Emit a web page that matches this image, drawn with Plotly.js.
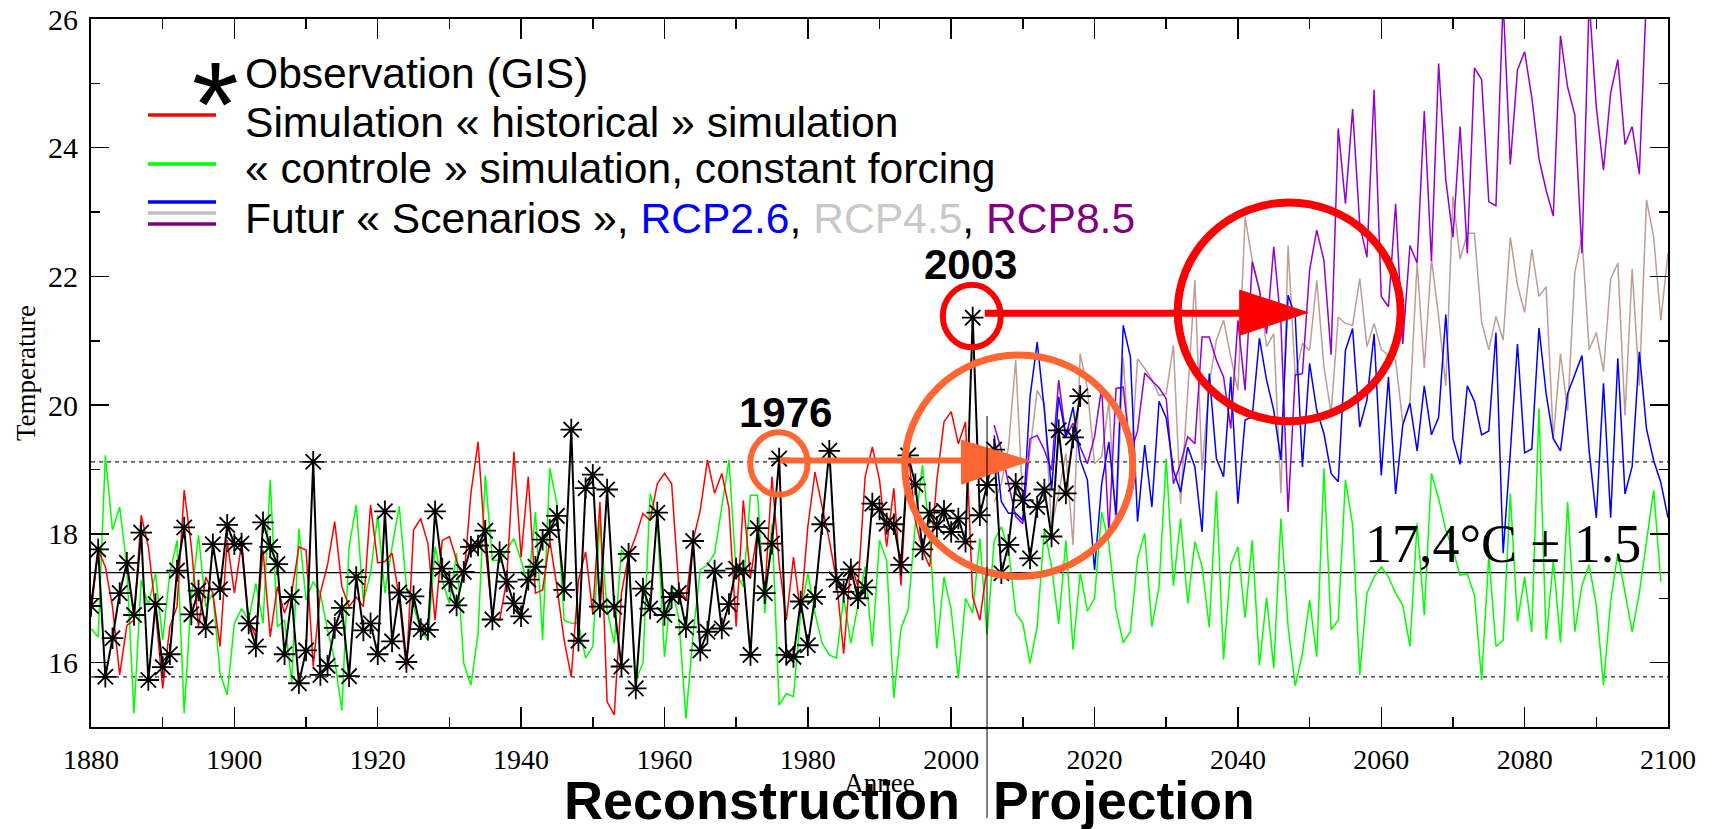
<!DOCTYPE html>
<html><head><meta charset="utf-8">
<script src="https://cdn.plot.ly/plotly-3.0.1.min.js"></script>
<style>html,body{margin:0;padding:0;background:#fff}#chart{width:1718px;height:829px}</style>
</head><body><div id="chart"></div>
<script>
// ---- data ----
const obsStartYear = 1880;
const observation = [
  16.88,17.76,15.78,16.38,17.08,17.55,16.74,18.02,15.73,16.91,
  15.93,16.13,17.43,18.10,16.75,17.12,16.55,17.84,17.14,18.14,
  17.84,17.85,16.61,16.25,18.18,17.80,17.53,16.13,17.02,15.68,
  16.19,19.12,15.81,15.95,16.54,16.85,15.79,17.33,16.50,16.61,
  16.13,18.35,16.33,17.09,16.01,17.03,16.52,16.51,18.35,17.46,
  17.26,16.89,17.41,17.80,17.82,18.05,16.67,17.72,17.26,16.92,
  16.72,17.29,17.49,17.91,18.06,18.28,17.13,19.62,16.34,18.71,
  18.92,16.87,18.69,16.87,15.94,17.69,15.60,17.15,16.84,18.33,
  16.74,17.02,17.08,16.55,17.89,16.19,16.48,17.43,16.53,16.91,
  17.46,17.43,16.12,18.09,17.08,17.85,19.17,16.12,16.09,16.95,
  16.27,17.02,18.15,19.29,17.29,17.10,17.45,17.00,17.17,18.47,
  18.38,18.16,18.15,17.52,19.22,18.77,17.76,18.33,18.11,18.36,
  18.03,18.24,17.88,21.36,18.29,18.76,19.31,17.39,17.83,18.78,
  18.52,17.62,18.42,18.69,17.96,19.61,18.63,19.50,20.14
];
const histStartYear = 1880;
const historical = [
  16.77,17.75,17.49,16.87,15.81,16.58,16.66,18.29,17.80,16.82,
  15.60,16.56,16.87,18.68,17.80,16.56,17.33,17.08,16.25,17.90,
  17.08,17.85,16.66,16.40,17.75,16.40,17.18,16.77,17.08,17.80,
  17.75,15.94,17.08,17.52,18.19,17.18,16.87,17.02,16.87,18.45,
  17.55,17.57,17.70,17.00,15.89,18.06,18.24,17.85,16.66,17.90,
  17.96,17.59,17.28,18.63,19.43,17.80,16.69,16.66,17.28,19.28,
  17.64,18.89,17.08,17.13,17.90,17.18,16.35,15.78,17.28,17.72,
  16.77,18.50,15.39,15.19,17.08,17.67,17.96,18.32,18.21,18.78,
  18.94,18.78,17.18,16.97,17.90,18.37,19.15,18.63,18.94,18.40,
  16.56,18.52,17.33,18.06,17.08,18.89,17.54,16.66,17.64,16.77,
  18.11,18.96,18.42,17.90,17.28,16.14,17.54,17.18,18.89,19.35,
  18.84,17.80,18.71,17.20,19.28,18.21,17.75,17.49,18.84,19.74,
  19.90,19.40,19.74,17.02,16.66,17.49
];
const ctrlStartYear = 1880;
const control = [
  16.53,16.40,19.22,18.06,18.42,17.49,15.21,17.28,16.89,17.39,
  16.35,17.39,17.90,15.21,17.02,17.98,16.87,17.08,15.83,15.50,
  16.61,16.84,16.66,17.23,16.61,18.84,16.56,16.66,15.70,18.08,
  16.97,17.26,17.08,16.51,16.04,15.26,17.80,18.45,16.95,17.39,
  18.29,17.08,17.80,18.43,17.18,16.87,16.51,16.35,17.80,17.28,
  16.92,17.70,15.99,15.65,16.45,18.91,17.59,17.59,17.75,17.93,
  17.59,17.18,18.34,16.35,19.02,18.47,16.66,16.61,16.61,16.07,
  16.25,18.21,16.82,16.30,17.75,17.59,15.73,15.99,18.63,18.21,
  16.09,17.18,16.69,15.13,16.45,17.44,17.52,17.70,18.42,19.15,
  17.39,17.18,18.60,18.60,16.77,18.16,15.34,15.52,15.47,16.77,
  17.39,16.77,16.30,16.12,16.07,17.02,16.30,16.87,17.49,16.25,
  17.90,17.59,15.45,16.53,16.82,18.16,19.07,17.96,16.22,17.33,
  16.82,15.76,17.00,16.77,17.93,16.43,17.90,18.11,17.75,16.77,
  16.61,15.99,16.56,18.08,17.50,16.60,17.90,16.20,17.40,16.80,
  17.00,18.34,17.85,16.82,16.31,16.48,17.62,18.01,16.56,17.18,
  19.17,17.19,18.24,16.92,17.88,17.49,16.55,18.67,16.05,17.52,
  17.80,16.70,17.90,15.96,17.01,15.91,18.24,16.56,15.64,16.14,
  16.97,16.09,19.02,16.51,16.66,18.84,18.14,15.81,17.08,17.33,
  17.49,17.33,17.08,16.89,16.25,18.16,16.74,18.94,18.55,18.06,
  17.75,17.36,17.38,17.05,15.73,17.67,16.25,16.35,18.63,16.64,
  17.33,16.48,19.95,16.36,17.59,16.31,18.50,16.48,17.20,17.52,
  16.89,15.65,16.95,17.70,17.08,16.48,17.08,17.85,18.68,17.26
];
const rcpStartYear = 2006;
const rcp26 = [
  19.53,18.50,18.32,18.32,18.21,20.13,20.98,19.92,18.68,20.13,
  19.51,19.97,19.15,18.84,17.44,18.78,19.43,18.30,21.24,20.75,
  18.19,19.38,18.42,20.06,19.80,18.99,18.65,19.35,19.04,18.03,
  20.49,19.17,18.89,20.44,18.47,19.77,19.82,21.04,20.39,19.92,
  19.15,21.71,21.37,19.04,20.65,19.92,19.56,18.94,18.81,20.85,
  21.19,19.66,20.08,21.11,18.91,20.44,18.62,19.69,20.03,19.29,
  20.30,19.54,19.81,21.41,19.48,19.08,20.30,20.06,19.54,19.60,
  21.13,17.70,19.26,20.95,19.26,19.32,21.20,20.18,19.48,19.29,
  20.18,20.46,20.77,19.29,18.25,20.34,18.25,20.73,18.62,19.05,
  20.83,19.63,19.14,18.80,18.25
];
const rcp45 = [
  18.50,18.78,19.35,20.70,18.47,19.30,20.23,20.03,18.11,18.63,
  19.25,17.83,20.80,20.26,19.09,19.20,20.05,18.08,20.75,19.00,
  20.72,20.57,20.40,20.15,20.18,20.93,18.47,20.23,21.94,18.99,
  20.34,21.01,21.32,20.75,20.23,22.92,22.25,21.79,20.91,21.11,
  18.63,22.48,20.44,20.96,20.85,21.94,20.60,19.87,21.37,21.27,
  21.24,21.97,20.91,21.27,20.87,20.77,20.70,19.72,20.03,22.21,
  20.58,22.27,21.38,20.30,23.25,22.27,22.67,22.67,21.29,20.86,
  21.38,21.01,22.61,21.87,21.44,22.42,21.69,21.84,19.48,20.80,
  19.91,22.06,22.61,20.86,21.13,20.52,21.96,22.21,19.84,22.12,
  20.30,23.19,22.61,21.32,22.36
];
const rcp85 = [
  19.69,19.30,18.78,18.27,18.16,19.48,19.53,19.30,18.99,20.39,
  19.51,19.72,19.35,19.09,19.51,20.28,18.00,20.26,20.28,19.25,
  19.60,20.50,20.38,20.27,20.10,18.78,19.09,19.51,19.40,21.06,
  21.06,20.70,20.44,19.64,21.32,20.23,22.23,21.79,21.11,22.46,
  21.27,18.34,20.47,20.49,22.10,22.72,22.25,20.78,24.30,23.13,
  24.60,22.80,22.30,24.90,21.69,21.53,23.13,20.95,22.48,22.21,
  24.57,22.24,25.31,23.50,22.61,24.33,22.36,25.24,25.06,23.16,
  23.10,26.30,23.74,25.21,25.49,24.78,23.83,23.34,22.94,25.74,
  24.94,24.51,22.36,26.30,24.63,23.65,24.85,25.37,24.05,24.33,
  23.59,26.40,26.90,27.20,26.80
];
const climateMean = 17.4;
const climateUpper = 19.12;
const climateLower = 15.78;
const splitYear = 2005;
const xTickLabels = ['1880','1900','1920','1940','1960','1980','2000','2020','2040','2060','2080','2100'];
const yTickLabels = ['16','18','20','22','24','26'];

function yearsFrom(start, values) { return values.map((_, i) => start + i); }

const serif = 'Liberation Serif, Times New Roman, serif';
const sans = 'Liberation Sans, Arial, sans-serif';

const traces = [
  {x: yearsFrom(ctrlStartYear, control), y: control, mode: 'lines', line: {color: '#00ff00', width: 1.5}, name: 'controle'},
  {x: yearsFrom(rcpStartYear, rcp45), y: rcp45, mode: 'lines', line: {color: '#bf9c98', width: 1.5}, name: 'RCP4.5'},
  {x: yearsFrom(rcpStartYear, rcp85), y: rcp85, mode: 'lines', line: {color: '#9400d3', width: 1.5}, name: 'RCP8.5'},
  {x: yearsFrom(rcpStartYear, rcp26), y: rcp26, mode: 'lines', line: {color: '#0000ff', width: 1.5}, name: 'RCP2.6'},
  {x: yearsFrom(histStartYear, historical), y: historical, mode: 'lines', line: {color: '#ff0000', width: 1.5}, name: 'historical'},
  {x: yearsFrom(obsStartYear, observation), y: observation, mode: 'lines+markers',
   line: {color: '#000000', width: 2},
   marker: {symbol: 'asterisk-open', size: 18, color: '#000000', line: {color: '#000000', width: 1.8}},
   name: 'Observation'}
];

const px = fx => (fx - 91) / 1577;   // helper for paper placement of decorations
const py = fy => (727 - fy) / 708;

const shapes = [
  {type: 'line', xref: 'paper', x0: 0, x1: 1, yref: 'y', y0: climateMean, y1: climateMean, line: {color: '#000', width: 1.2}, layer: 'below'},
  {type: 'line', xref: 'paper', x0: 0, x1: 1, yref: 'y', y0: climateUpper, y1: climateUpper, line: {color: '#222', width: 1.2, dash: '4px,4px'}, layer: 'below'},
  {type: 'line', xref: 'paper', x0: 0, x1: 1, yref: 'y', y0: climateLower, y1: climateLower, line: {color: '#222', width: 1.2, dash: '4px,4px'}, layer: 'below'},
  // legend line samples
  {type: 'line', xref: 'paper', yref: 'paper', x0: px(148), x1: px(216), y0: py(115), y1: py(115), line: {color: '#ff0000', width: 3.5}},
  {type: 'line', xref: 'paper', yref: 'paper', x0: px(148), x1: px(216), y0: py(164), y1: py(164), line: {color: '#00ff00', width: 3.5}},
  {type: 'line', xref: 'paper', yref: 'paper', x0: px(148), x1: px(216), y0: py(202), y1: py(202), line: {color: '#0000ff', width: 3.5}},
  {type: 'line', xref: 'paper', yref: 'paper', x0: px(148), x1: px(216), y0: py(213), y1: py(213), line: {color: '#c0c0c0', width: 3.5}},
  {type: 'line', xref: 'paper', yref: 'paper', x0: px(148), x1: px(216), y0: py(224), y1: py(224), line: {color: '#800080', width: 3.5}},
  // circles
  {type: 'circle', xref: 'x', yref: 'y', x0: 1971.96, x1: 1979.97, y0: 18.61, y1: 19.58, line: {color: '#ff6633', width: 6}},
  {type: 'circle', xref: 'x', yref: 'y', x0: 1993.53, x1: 2025.33, y0: 17.34, y1: 20.78, line: {color: '#ff6633', width: 7}},
  {type: 'circle', xref: 'x', yref: 'y', x0: 1998.83, x1: 2006.92, y0: 20.90, y1: 21.87, line: {color: '#ff0000', width: 6}},
  {type: 'circle', xref: 'x', yref: 'y', x0: 2031.6, x1: 2062.7, y0: 19.75, y1: 23.15, line: {color: '#ff0000', width: 8}},
  // arrows
  {type: 'line', xref: 'x', yref: 'y', x0: 1976.1, x1: 2001.6, y0: 19.14, y1: 19.14, line: {color: '#ff6633', width: 6}},
  {type: 'path', xref: 'x', yref: 'y', path: 'M 2001.43 19.457 L 2010.96 19.135 L 2001.43 18.773 Z', fillcolor: '#ff6633', line: {color: '#ff6633', width: 1}},
  {type: 'line', xref: 'x', yref: 'y', x0: 2004.69, x1: 2040.5, y0: 21.43, y1: 21.43, line: {color: '#ff0000', width: 7}},
  {type: 'path', xref: 'x', yref: 'y', path: 'M 2040.25 21.786 L 2049.77 21.44 L 2040.25 21.087 Z', fillcolor: '#ff0000', line: {color: '#ff0000', width: 1}},
  // split line between reconstruction and projection
  {type: 'line', xref: 'x', x0: splitYear, x1: splitYear, yref: 'paper', y0: py(818), y1: py(416), line: {color: '#000', width: 1}}
];

const annotations = [
  {xref: 'paper', yref: 'paper', x: px(215), y: py(104), text: '*', showarrow: false, xanchor: 'center', yanchor: 'middle', font: {family: sans, size: 120, color: '#000'}},
  {xref: 'paper', yref: 'paper', x: px(243), y: py(73), text: 'Observation (GIS)', showarrow: false, xanchor: 'left', yanchor: 'middle', font: {family: sans, size: 42.6, color: '#000'}},
  {xref: 'paper', yref: 'paper', x: px(243), y: py(122), text: 'Simulation « historical » simulation', showarrow: false, xanchor: 'left', yanchor: 'middle', font: {family: sans, size: 42.6, color: '#000'}},
  {xref: 'paper', yref: 'paper', x: px(243), y: py(168), text: '« controle » simulation, constant forcing', showarrow: false, xanchor: 'left', yanchor: 'middle', font: {family: sans, size: 42.6, color: '#000'}},
  {xref: 'paper', yref: 'paper', x: px(243), y: py(218), text: 'Futur « Scenarios », <span style="color:#0000ff">RCP2.6</span>, <span style="color:#c8c8c8">RCP4.5</span>, <span style="color:#800080">RCP8.5</span>', showarrow: false, xanchor: 'left', yanchor: 'middle', font: {family: sans, size: 42.6, color: '#000'}},
  {xref: 'x', yref: 'y', x: 2002.7, y: 22.19, text: '<b>2003</b>', showarrow: false, xanchor: 'center', yanchor: 'middle', font: {family: sans, size: 42, color: '#000'}},
  {xref: 'x', yref: 'y', x: 1976.9, y: 19.89, text: '<b>1976</b>', showarrow: false, xanchor: 'center', yanchor: 'middle', font: {family: sans, size: 42, color: '#000'}},
  {xref: 'paper', yref: 'paper', x: px(1643), y: py(543.5), text: '17,4°C ± 1.5', showarrow: false, xanchor: 'right', yanchor: 'middle', font: {family: serif, size: 54, color: '#000'}},
  {xref: 'paper', yref: 'paper', x: px(962), y: py(800), text: '<b>Reconstruction</b>', showarrow: false, xanchor: 'right', yanchor: 'middle', font: {family: sans, size: 54, color: '#000'}},
  {xref: 'paper', yref: 'paper', x: px(991), y: py(800), text: '<b>Projection</b>', showarrow: false, xanchor: 'left', yanchor: 'middle', font: {family: sans, size: 53.5, color: '#000'}}
];

const layout = {
  width: 1718, height: 829,
  margin: {l: 91, r: 50, t: 19, b: 102},
  paper_bgcolor: '#fff', plot_bgcolor: '#fff',
  showlegend: false,
  hovermode: false,
  xaxis: {
    range: [1880, 2100], tickmode: 'array',
    tickvals: xTickLabels.map(Number), ticktext: xTickLabels,
    ticks: 'inside', ticklen: 20, tickwidth: 1.5, tickcolor: '#000',
    minor: {tick0: 1880, dtick: 10, ticks: 'inside', ticklen: 10, tickwidth: 1.5, tickcolor: '#000', showgrid: false},
    showline: true, linecolor: '#000', linewidth: 2, mirror: 'ticks',
    showgrid: false, zeroline: false,
    tickfont: {family: serif, size: 28, color: '#000'},
    ticklabelstandoff: 6,
    title: {text: 'Annee', font: {family: serif, size: 27, color: '#000'}, standoff: 0},
    automargin: false
  },
  yaxis: {
    range: [15, 26], tickmode: 'array',
    tickvals: yTickLabels.map(Number), ticktext: yTickLabels,
    ticks: 'inside', ticklen: 18, tickwidth: 1.5, tickcolor: '#000',
    minor: {tick0: 15, dtick: 1, ticks: 'inside', ticklen: 9, tickwidth: 1.5, tickcolor: '#000', showgrid: false},
    showline: true, linecolor: '#000', linewidth: 2, mirror: 'ticks',
    showgrid: false, zeroline: false,
    tickfont: {family: serif, size: 30, color: '#000'},
    ticklabelstandoff: 5,
    title: {text: 'Temperature', font: {family: serif, size: 27, color: '#000'}, standoff: 5},
    automargin: false
  },
  shapes: shapes,
  annotations: annotations
};

Plotly.newPlot('chart', traces, layout, {staticPlot: true, displayModeBar: false});
</script></body></html>
